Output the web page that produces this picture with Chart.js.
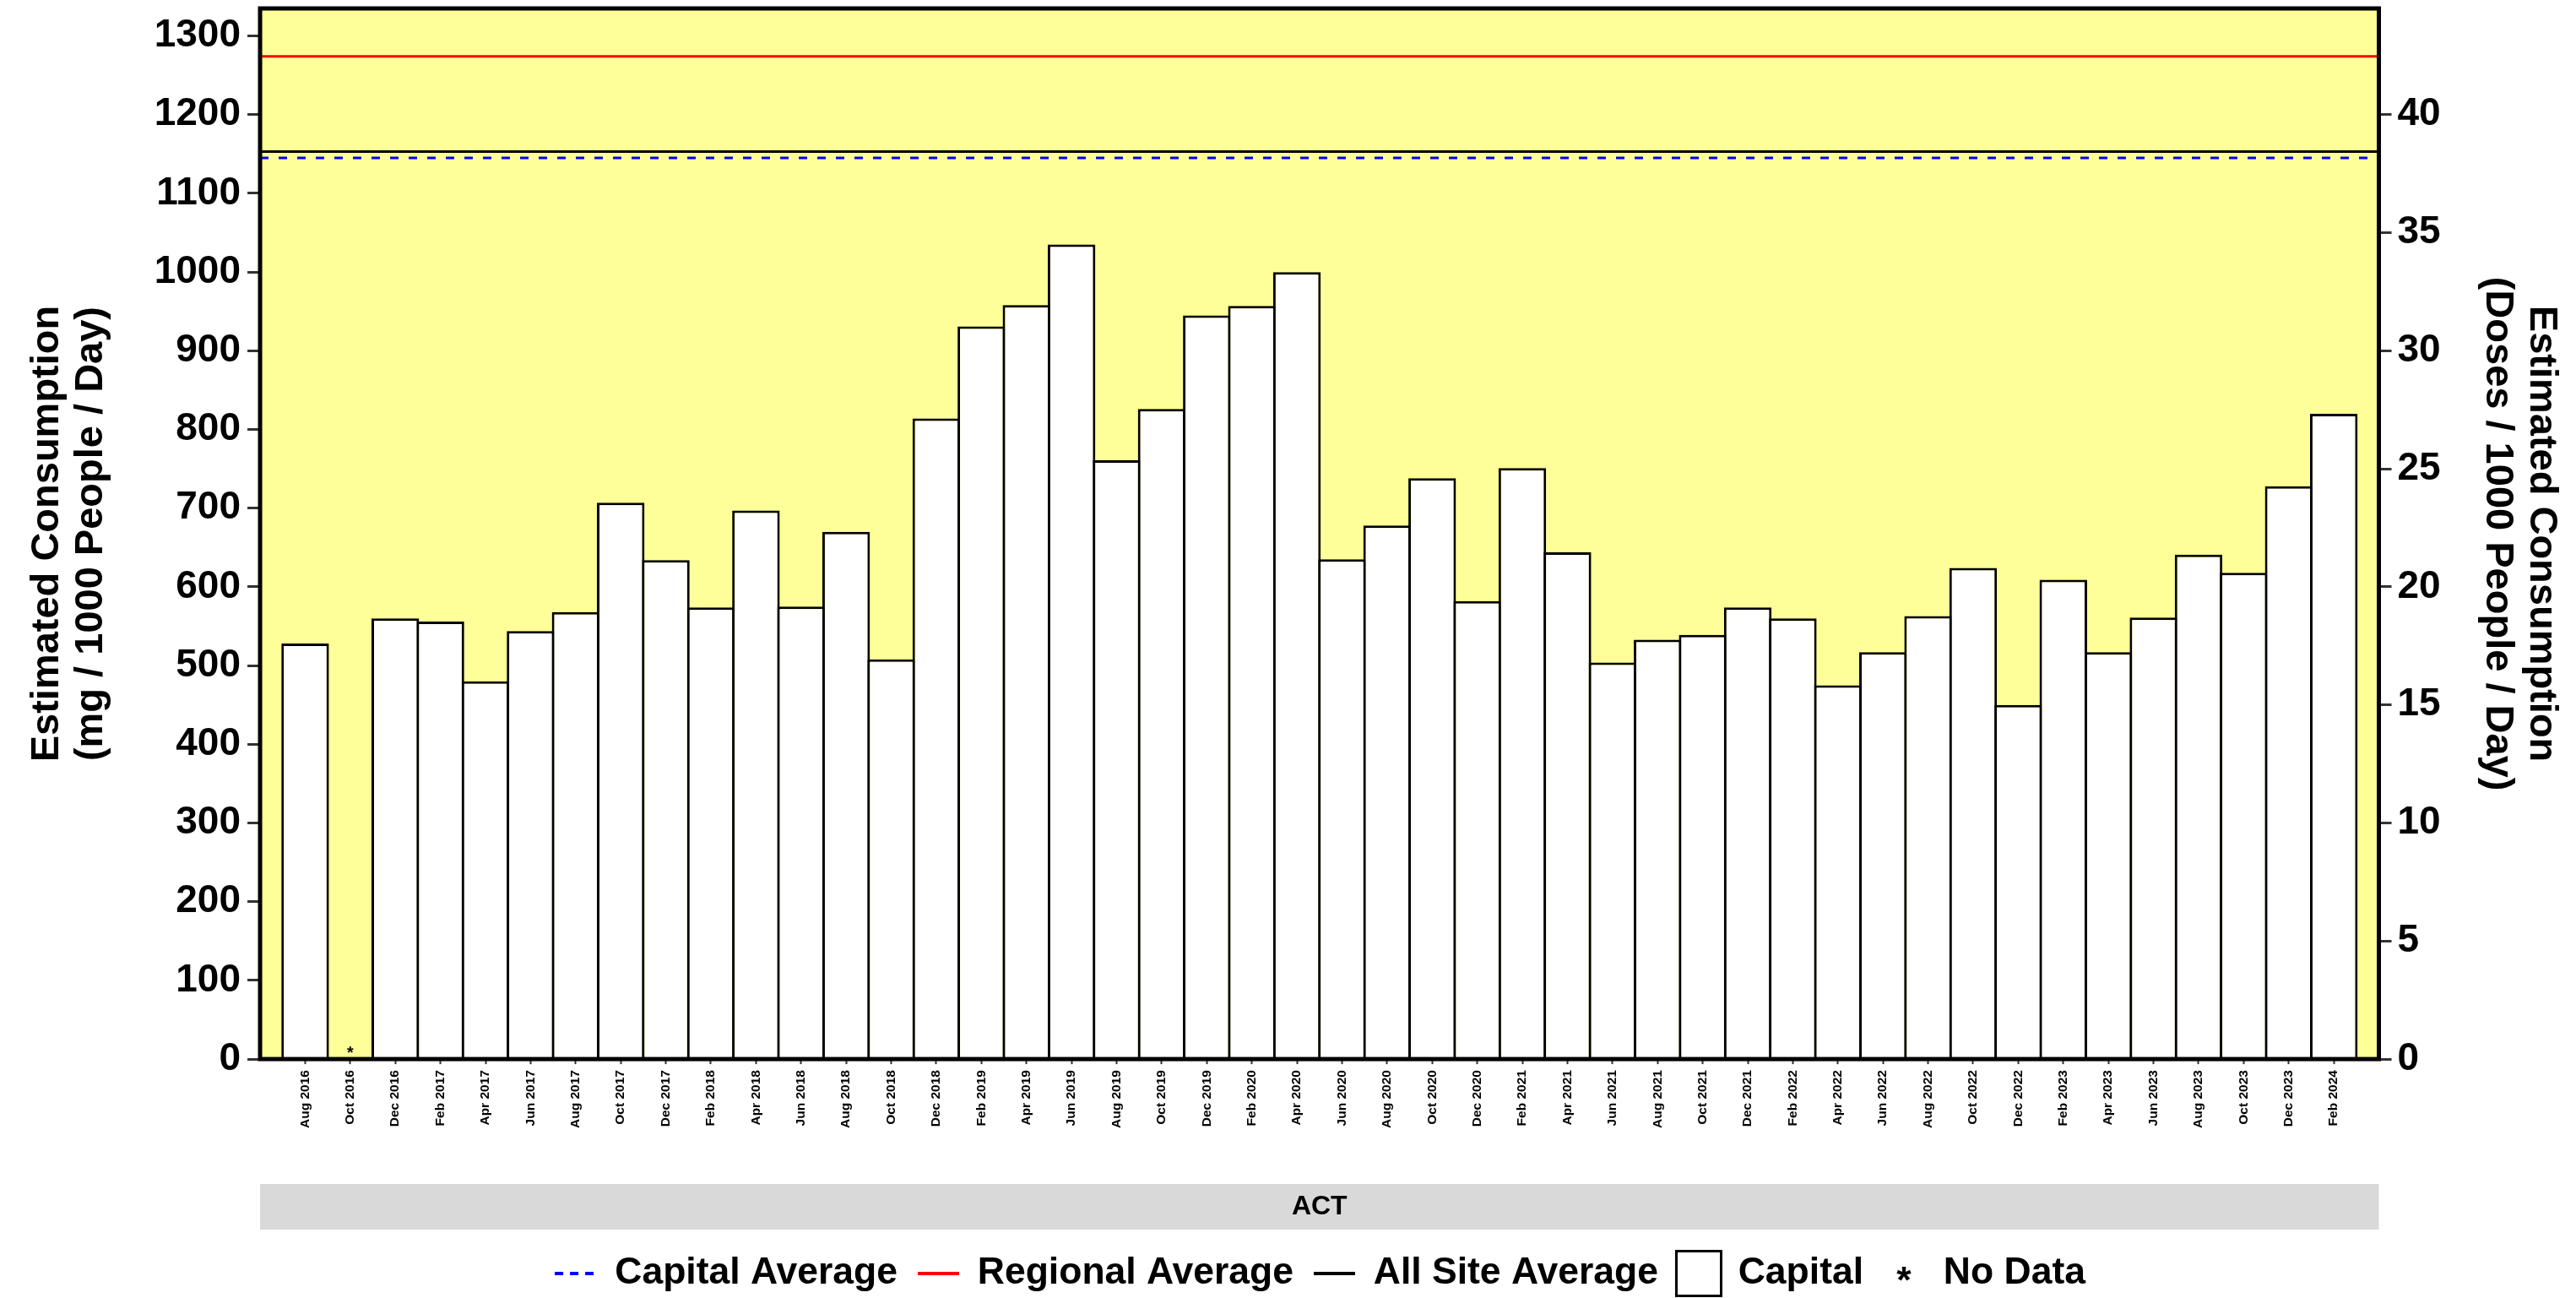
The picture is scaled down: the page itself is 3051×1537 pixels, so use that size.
<!DOCTYPE html>
<html>
<head>
<meta charset="utf-8">
<script src="https://cdn.jsdelivr.net/npm/chart.js@4.4.1/dist/chart.umd.min.js"></script>
<style>
html,body{margin:0;padding:0;background:#ffffff;}
canvas{display:block;}
</style>
</head>
<body>
<canvas id="chart" width="3051" height="1537"></canvas>
<script>
// ---------- DATA ----------
const categories = [
  'Aug 2016','Oct 2016','Dec 2016',
  'Feb 2017','Apr 2017','Jun 2017','Aug 2017','Oct 2017','Dec 2017',
  'Feb 2018','Apr 2018','Jun 2018','Aug 2018','Oct 2018','Dec 2018',
  'Feb 2019','Apr 2019','Jun 2019','Aug 2019','Oct 2019','Dec 2019',
  'Feb 2020','Apr 2020','Jun 2020','Aug 2020','Oct 2020','Dec 2020',
  'Feb 2021','Apr 2021','Jun 2021','Aug 2021','Oct 2021','Dec 2021',
  'Feb 2022','Apr 2022','Jun 2022','Aug 2022','Oct 2022','Dec 2022',
  'Feb 2023','Apr 2023','Jun 2023','Aug 2023','Oct 2023','Dec 2023',
  'Feb 2024'
];
const capitalValues = [
  528, null, 560,
  556, 480, 544, 568, 707, 634,
  574, 697, 575, 670, 508, 814,
  931, 958, 1035, 761, 826, 945,
  957, 1000, 635, 678, 738, 582,
  751, 644, 504, 533, 539, 574,
  560, 475, 517, 563, 624, 450,
  609, 517, 561, 641, 618, 728,
  820
];
const capitalAverage = 1145;
const regionalAverage = 1274;
const allSiteAverage = 1153;
const leftTicks = [0,100,200,300,400,500,600,700,800,900,1000,1100,1200,1300];
const rightTicks = [0,5,10,15,20,25,30,35,40];
const mgPerDose = 30;
const yMax = 1335;
const facetLabel = 'ACT';
const leftTitle = ['Estimated Consumption','(mg / 1000 People / Day)'];
const rightTitle = ['Estimated Consumption','(Doses / 1000 People / Day)'];
const legendLabels = ['Capital Average','Regional Average','All Site Average','Capital','No Data'];

// ---------- STYLE ----------
const FONT = "'Liberation Sans', Arial, Helvetica, sans-serif";
const xMin = 0;
const xMax = categories.length + 1;
const xTitlePad = {top: 66.8, bottom: 10.8};
const xTitleSize = 32;

function lineImage(color, dash) {
  const c = document.createElement('canvas');
  c.width = 49; c.height = 8;
  const g = c.getContext('2d');
  g.strokeStyle = color; g.lineWidth = 4;
  g.setLineDash(dash);
  g.beginPath(); g.moveTo(0, 4); g.lineTo(49, 4); g.stroke();
  return c;
}
function boxImage() {
  const c = document.createElement('canvas');
  c.width = 56; c.height = 56;
  const g = c.getContext('2d');
  g.fillStyle = '#ffffff'; g.strokeStyle = '#000000'; g.lineWidth = 3;
  g.fillRect(1.5, 1.5, 53, 53); g.strokeRect(1.5, 1.5, 53, 53);
  return c;
}
function asteriskImage(size, w, h, cy) {
  const c = document.createElement('canvas');
  c.width = w; c.height = h;
  const g = c.getContext('2d');
  g.font = 'bold ' + size + 'px ' + FONT;
  g.fillStyle = '#000000'; g.textAlign = 'center'; g.textBaseline = 'alphabetic';
  const m = g.measureText('*');
  const off = (m.actualBoundingBoxAscent - m.actualBoundingBoxDescent) / 2;
  g.fillText('*', w / 2, cy + off);
  return c;
}

const legendImages = [
  lineImage('#0000FF', [10, 8]),
  lineImage('#FF0000', []),
  lineImage('#000000', []),
  boxImage(),
  asteriskImage(44.5, 30, 44, 22)
];
const chartStar = asteriskImage(20, 24, 48, 13);

const noDataPoints = capitalValues
  .map((v, i) => (v === null ? {x: i + 1, y: 0} : null))
  .filter(p => p !== null);

const decor = {
  id: 'decor',
  beforeDraw(chart) {
    const {ctx, chartArea: a, scales} = chart;
    const x = scales.x;
    ctx.save();
    ctx.fillStyle = '#FFFF99';
    ctx.fillRect(a.left, a.top, a.right - a.left, a.bottom - a.top);
    const cy = x.bottom - xTitlePad.bottom - xTitleSize * 1.2 / 2;
    ctx.fillStyle = '#D9D9D9';
    ctx.fillRect(a.left, cy - 27, a.right - a.left, 54);
    ctx.restore();
  },
  afterDatasetsDraw(chart) {
    const {ctx, chartArea: a} = chart;
    ctx.save();
    ctx.strokeStyle = '#000000';
    ctx.lineWidth = 5;
    ctx.strokeRect(a.left, a.top, a.right - a.left, a.bottom - a.top);
    ctx.restore();
  },
  afterLayout(chart) {
    const lg = chart.legend;
    if (lg) { lg.left += 33; lg.right += 33; lg.top += 3.25; lg.bottom += 3.25; }
  }
};

function avgLine(label, value, color, dash) {
  return {
    type: 'line', label: label,
    data: [{x: xMin, y: value}, {x: xMax, y: value}],
    borderColor: color, borderWidth: 3, borderDash: dash,
    pointRadius: 0, fill: false, yAxisID: 'y', xAxisID: 'x', order: 1
  };
}

new Chart(document.getElementById('chart'), {
  type: 'bar',
  data: {
    datasets: [
      avgLine(legendLabels[0], capitalAverage, '#0000FF', [10, 12]),
      avgLine(legendLabels[1], regionalAverage, '#FF0000', []),
      avgLine(legendLabels[2], allSiteAverage, '#000000', []),
      {
        type: 'bar', label: legendLabels[3],
        data: capitalValues.map((v, i) => ({x: i + 1, y: v})),
        backgroundColor: '#FFFFFF', borderColor: '#000000', borderWidth: 3,
        barPercentage: 1.056, categoryPercentage: 1,
        yAxisID: 'y', xAxisID: 'x', order: 2
      },
      {
        type: 'scatter', label: legendLabels[4],
        data: noDataPoints, pointStyle: chartStar, pointRadius: 5, borderWidth: 0,
        yAxisID: 'y', xAxisID: 'x', order: 0
      }
    ]
  },
  options: {
    responsive: false,
    animation: false,
    devicePixelRatio: 1,
    events: [],
    layout: {padding: {left: 20, right: 10, top: 10, bottom: 0}},
    plugins: {
      tooltip: {enabled: false},
      legend: {
        position: 'bottom',
        labels: {
          usePointStyle: true, pointStyleWidth: 49, boxHeight: 44, padding: 23.5,
          color: '#000000',
          font: {family: FONT, size: 44.5, weight: 'bold'},
          generateLabels: () => legendLabels.map((t, i) => ({
            text: t, pointStyle: legendImages[i], datasetIndex: i, hidden: false,
            lineWidth: 0, fillStyle: 'rgba(0,0,0,0)', strokeStyle: 'rgba(0,0,0,0)'
          }))
        }
      }
    },
    scales: {
      x: {
        type: 'linear', min: xMin, max: xMax, offset: false,
        afterBuildTicks: s => { s.ticks = categories.map((c, i) => ({value: i + 1})); },
        ticks: {
          autoSkip: false, maxRotation: 90, minRotation: 90, padding: 7, color: '#000000',
          font: {family: FONT, size: 15.5, weight: 'bold'},
          callback: v => categories[v - 1]
        },
        grid: {display: true, drawOnChartArea: false, offset: false, tickLength: 6, tickColor: '#333333', tickWidth: 2},
        border: {display: false},
        title: {
          display: true, text: facetLabel, color: '#000000',
          font: {family: FONT, size: xTitleSize, weight: 'bold', lineHeight: 1.2},
          padding: xTitlePad
        }
      },
      y: {
        type: 'linear', position: 'left', min: 0, max: yMax,
        afterBuildTicks: s => { s.ticks = leftTicks.map(v => ({value: v})); },
        afterFit: s => { s.paddingTop = 0; s.paddingBottom = 0; },
        ticks: {padding: 8, color: '#000000', font: {family: FONT, size: 46, weight: 'bold'}, callback: v => String(v)},
        grid: {display: true, drawOnChartArea: false, tickLength: 15, tickColor: '#333333', tickWidth: 3},
        border: {display: false},
        title: {
          display: true, text: leftTitle, color: '#000000',
          font: {family: FONT, size: 47, weight: 'bold', lineHeight: 1.1},
          padding: {top: 10, bottom: 41.3}
        }
      },
      y2: {
        type: 'linear', position: 'right', min: 0, max: yMax / mgPerDose,
        afterBuildTicks: s => { s.ticks = rightTicks.map(v => ({value: v})); },
        afterFit: s => { s.paddingTop = 0; s.paddingBottom = 0; },
        ticks: {padding: 7, color: '#000000', font: {family: FONT, size: 46, weight: 'bold'}, callback: v => String(v)},
        grid: {display: true, drawOnChartArea: false, tickLength: 15, tickColor: '#333333', tickWidth: 3},
        border: {display: false},
        title: {
          display: true, text: rightTitle, color: '#000000',
          font: {family: FONT, size: 47, weight: 'bold', lineHeight: 1.1},
          padding: {top: 5, bottom: 34.9}
        }
      }
    }
  },
  plugins: [decor]
});
</script>
</body>
</html>
